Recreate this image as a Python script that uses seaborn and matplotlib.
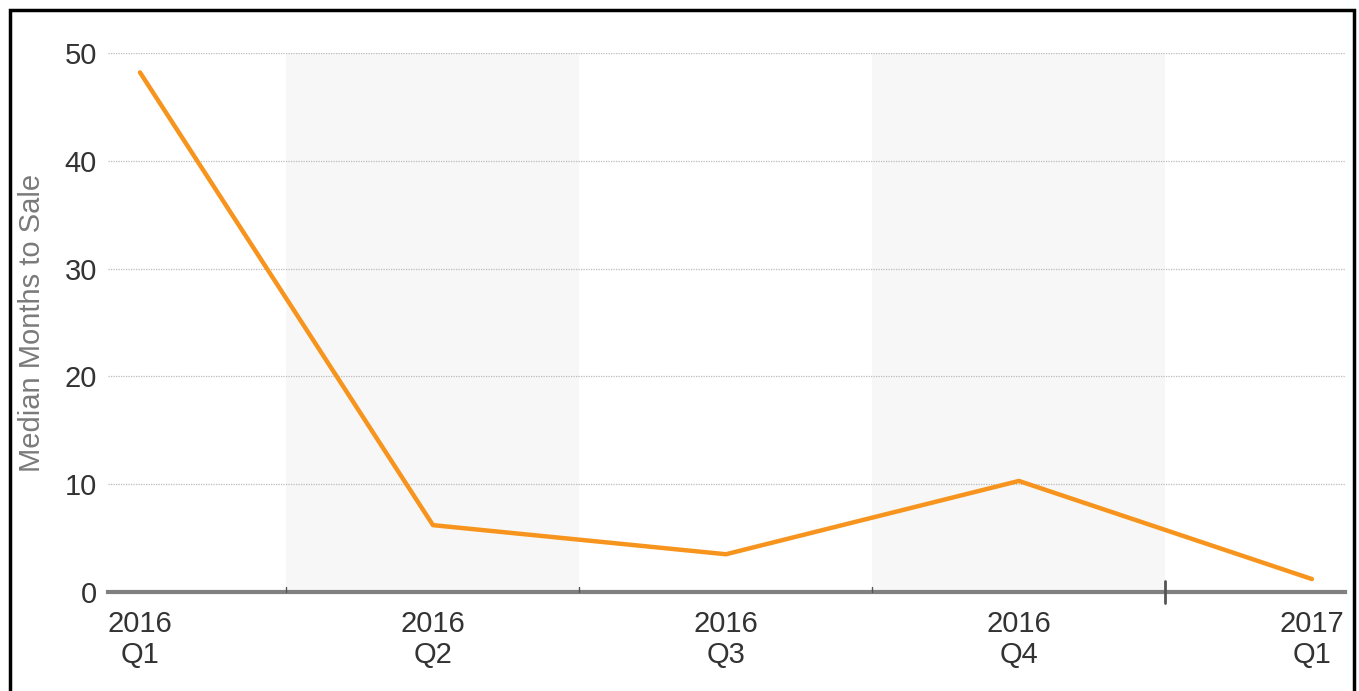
import numpy as np
import pandas as pd
import matplotlib.pyplot as plt
import seaborn as sns
from matplotlib.patches import Rectangle

quarters = ["2016\nQ1", "2016\nQ2", "2016\nQ3", "2016\nQ4", "2017\nQ1"]
months_to_sale = [48.2, 6.2, 3.5, 10.3, 1.2]
y_ticks = [0, 10, 20, 30, 40, 50]

df = pd.DataFrame({"pos": np.arange(len(quarters)), "months": months_to_sale})

sns.set_style("white")
plt.rcParams["font.family"] = ["Liberation Sans", "DejaVu Sans"]

fig = plt.figure(figsize=(13.59, 6.91), dpi=100)
ax = fig.add_axes([0.0795, 0.1433, 0.9102, 0.78])

# alternating background bands
for start in [0.5, 2.5]:
    ax.axvspan(start, start + 1, color="#f7f7f7", zorder=0, lw=0)

sns.lineplot(data=df, x="pos", y="months", ax=ax, color="#f7941d", lw=3.2,
             solid_capstyle="round", zorder=3)

ax.set_xlim(-0.109, 4.113)
ax.set_ylim(0, 50)
ax.set_yticks(y_ticks)
ax.set_xticks(df["pos"])
ax.set_xticklabels(quarters, linespacing=1.12)
ax.tick_params(axis="x", length=0, pad=13, labelsize=21, colors="#333333")
ax.tick_params(axis="y", length=0, pad=8, labelsize=21, colors="#333333")
ax.set_xlabel("")
ax.set_ylabel("Median Months to Sale", fontsize=21, color="#7a7a7a", labelpad=13)

ax.yaxis.grid(True, color="#bbbbbb", linestyle=(0, (1, 1)), lw=0.9)
ax.xaxis.grid(False)
ax.set_axisbelow(True)

for side in ["top", "right", "left"]:
    ax.spines[side].set_visible(False)
ax.spines["bottom"].set_color("#808080")
ax.spines["bottom"].set_linewidth(3)
ax.spines["bottom"].set_zorder(4)

# small tick marks at band boundaries
for b in [0.5, 1.5, 2.5]:
    ax.plot([b, b], [0, 0.45], color="#555555", lw=1, zorder=5, clip_on=False)
ax.plot([3.5, 3.5], [-1.0, 1.0], color="#555555", lw=2, zorder=5, clip_on=False)

fig.patches.append(Rectangle((9.5 / 1359, -0.05), 1344 / 1359, 1.05 - 10.5 / 691,
                             transform=fig.transFigure, fill=False,
                             edgecolor="black", lw=2.5))

fig.savefig("out.png", dpi=100)
